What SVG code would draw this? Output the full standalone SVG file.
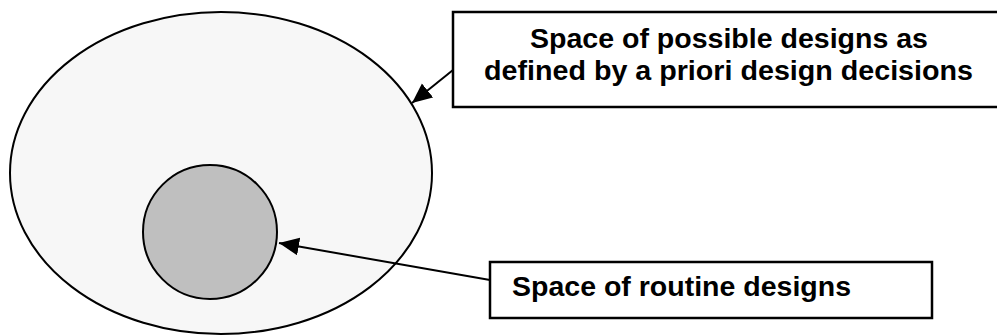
<svg xmlns="http://www.w3.org/2000/svg" width="997" height="336" viewBox="0 0 997 336">
<style>
.shape{stroke:#000;stroke-width:2}
.box{fill:#fff;stroke:#000;stroke-width:2.5}
.lbl{font-family:"Liberation Sans",Arial,sans-serif;font-weight:bold;font-size:27px;fill:#000}
.conn{stroke:#000;stroke-width:2;fill:none}
</style>
<defs>
<marker id="arrow" markerUnits="userSpaceOnUse" markerWidth="22" markerHeight="20" refX="20" refY="9" orient="auto">
<path d="M0,0 L20,9 L0,18 Z" fill="#000"/>
</marker>
</defs>
<rect width="997" height="336" fill="#fff"/>
<g id="possible-space">
<ellipse class="shape" cx="221" cy="173" rx="211" ry="161" fill="#f7f7f7"/>
</g>
<g id="routine-space">
<circle class="shape" cx="210" cy="232" r="67" fill="#bfbfbf"/>
</g>
<g id="label-possible">
<rect class="box" x="453" y="12" width="550" height="95"/>
<text class="lbl" x="729" y="48" text-anchor="middle" textLength="398" lengthAdjust="spacingAndGlyphs">Space of possible designs as</text>
<text class="lbl" x="728.5" y="80" text-anchor="middle" textLength="489" lengthAdjust="spacingAndGlyphs">defined by a priori design decisions</text>
</g>
<g id="label-routine">
<rect class="box" x="490" y="262" width="442" height="56"/>
<text class="lbl" x="512" y="296" textLength="339" lengthAdjust="spacingAndGlyphs">Space of routine designs</text>
</g>
<g id="connectors">
<line class="conn" x1="453" y1="70" x2="412" y2="103" marker-end="url(#arrow)"/>
<line class="conn" x1="490" y1="280" x2="279" y2="243" marker-end="url(#arrow)"/>
</g>
</svg>
